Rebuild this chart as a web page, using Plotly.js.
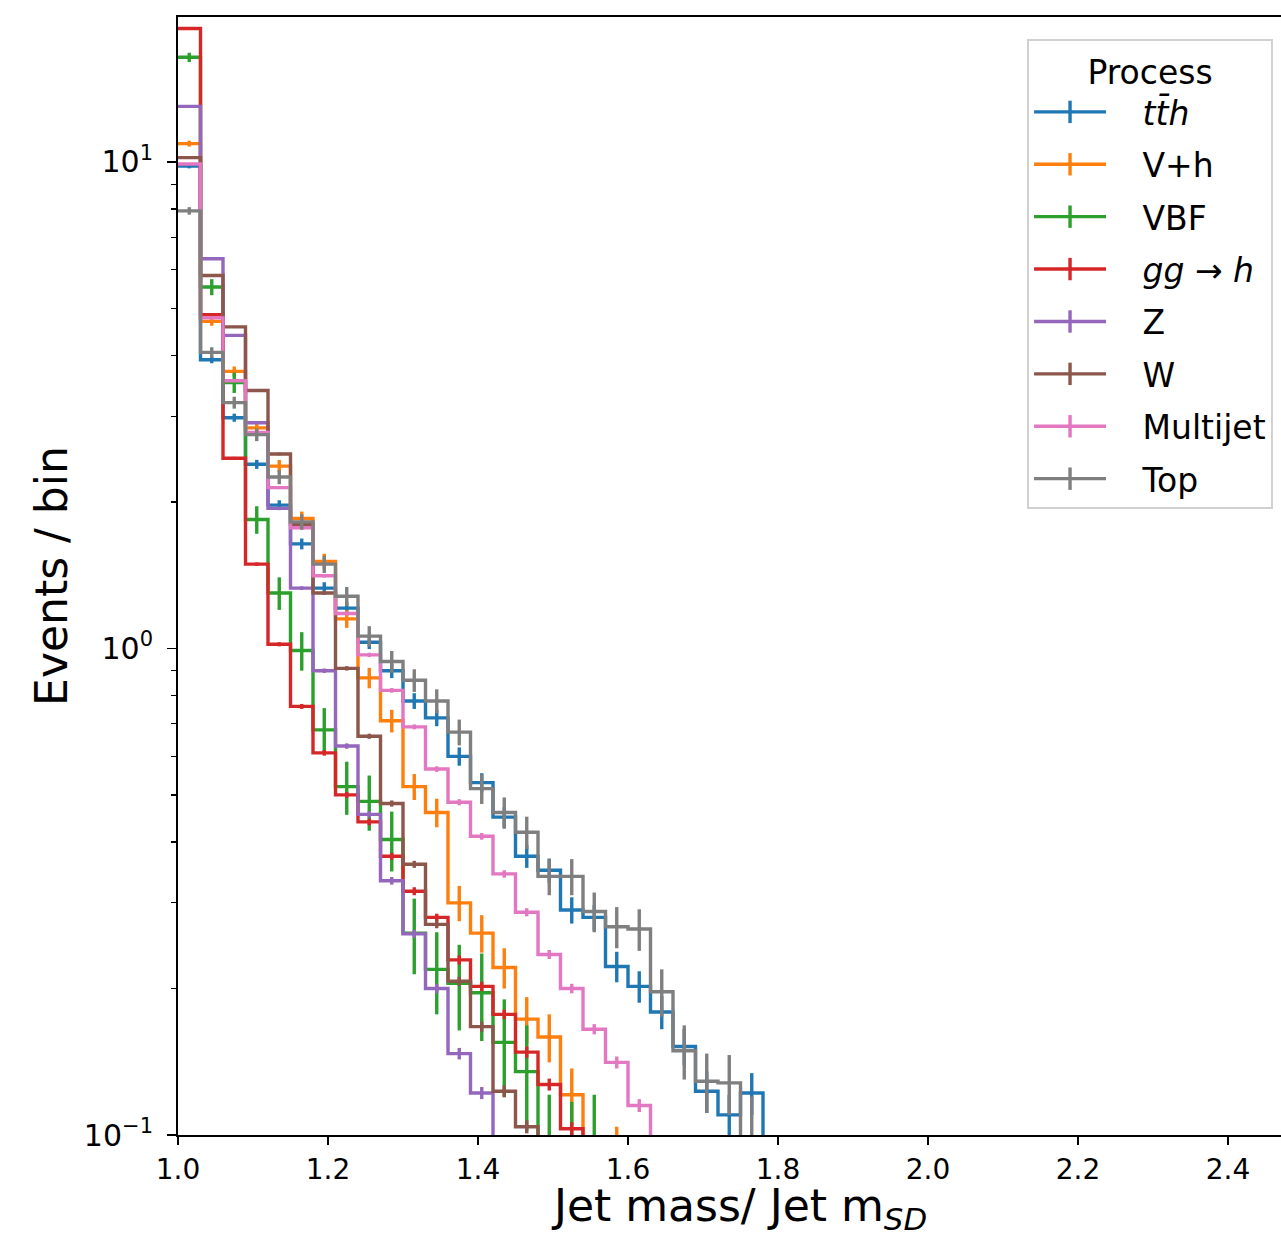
<!DOCTYPE html>
<html>
<head>
<meta charset="utf-8">
<script src="https://cdn.plot.ly/plotly-3.0.1.min.js"></script>
<style>
  html, body { margin: 0; padding: 0; overflow: hidden; background: #fff; }
  #chart { width: 1330px; height: 1237px; }
</style>
</head>
<body>
<div id="chart"></div>
<script>
// Bin edges (Jet mass / Jet m_SD)
const edges = [1.00,1.03,1.06,1.09,1.12,1.15,1.18,1.21,1.24,1.27,1.30,1.33,1.36,1.39,1.42,1.45,1.48,1.51,1.54,1.57,1.60,1.63,1.66,1.69,1.72,1.75,1.78];

// Events / bin per process and their uncertainties
const tthVals = [9.8,3.92,2.98,2.39,1.97,1.64,1.33,1.21,1.03,0.90,0.78,0.72,0.60,0.53,0.45,0.374,0.35,0.29,0.28,0.222,0.202,0.179,0.152,0.123,0.110,0.122];
const tthErr  = [0.103,0.065,0.057,0.051,0.046,0.042,0.038,0.036,0.033,0.031,0.029,0.028,0.026,0.024,0.022,0.020,0.020,0.018,0.017,0.016,0.015,0.014,0.013,0.012,0.011,0.012];

const vhVals = [10.9,4.7,3.71,2.84,2.37,1.85,1.51,1.15,0.87,0.71,0.52,0.46,0.30,0.26,0.221,0.173,0.159,0.121,0.06,0.07];
const vhErr  = [0.15,0.098,0.087,0.076,0.069,0.061,0.055,0.048,0.042,0.038,0.032,0.031,0.025,0.023,0.021,0.019,0.018,0.016,0.01,0.034];

const vbfVals = [16.4,5.53,3.52,1.84,1.30,0.99,0.68,0.52,0.485,0.405,0.26,0.219,0.205,0.196,0.155,0.135,0.085,0.09,0.085];
const vbfErr  = [0.36,0.21,0.17,0.12,0.10,0.09,0.074,0.065,0.063,0.057,0.046,0.042,0.041,0.040,0.035,0.033,0.036,0.027,0.036];

const gghVals = [18.8,4.85,2.46,1.49,1.02,0.76,0.61,0.50,0.44,0.374,0.317,0.28,0.229,0.202,0.177,0.148,0.127,0.103];
const gghErr  = [0.043,0.022,0.016,0.012,0.010,0.009,0.008,0.007,0.007,0.006,0.006,0.005,0.005,0.0045,0.004,0.004,0.0036,0.0032];

const zVals = [13.0,6.32,4.40,2.91,1.94,1.33,0.90,0.63,0.456,0.333,0.259,0.20,0.147,0.122];
const zErr  = [0.036,0.025,0.021,0.017,0.014,0.012,0.0095,0.008,0.007,0.006,0.005,0.0045,0.004,0.0035];

const wVals = [10.2,5.84,4.58,3.39,2.51,1.80,1.30,0.91,0.66,0.48,0.36,0.271,0.207,0.167,0.123,0.104];
const wErr  = [0.032,0.024,0.021,0.018,0.016,0.013,0.011,0.0095,0.008,0.007,0.006,0.005,0.0045,0.004,0.0035,0.0032];

const mjVals = [9.9,4.78,3.55,2.78,2.14,1.77,1.41,1.18,0.97,0.82,0.69,0.565,0.483,0.411,0.344,0.287,0.235,0.20,0.165,0.141,0.115];
const mjErr  = [0.031,0.022,0.019,0.017,0.015,0.013,0.012,0.011,0.010,0.009,0.008,0.0075,0.007,0.0065,0.006,0.0055,0.005,0.0045,0.004,0.004,0.0035];

const topVals = [7.93,4.06,3.20,2.75,2.25,1.82,1.49,1.28,1.06,0.94,0.86,0.78,0.673,0.515,0.46,0.419,0.34,0.34,0.288,0.268,0.265,0.197,0.149,0.129,0.128,0.085];
const topErr  = [0.14,0.10,0.09,0.083,0.075,0.067,0.061,0.057,0.051,0.048,0.046,0.044,0.041,0.036,0.034,0.032,0.029,0.029,0.027,0.026,0.026,0.022,0.019,0.018,0.018,0.035];

const names  = ['<i>tt\u0304h</i>', 'V+h', 'VBF', '<i>gg</i> \u2192 <i>h</i>', 'Z', 'W', 'Multijet', 'Top'];
const colors = ['#1f77b4','#ff7f0e','#2ca02c','#d62728','#9467bd','#8c564b','#e377c2','#7f7f7f'];
const series = [[tthVals,tthErr],[vhVals,vhErr],[vbfVals,vbfErr],[gghVals,gghErr],[zVals,zErr],[wVals,wErr],[mjVals,mjErr],[topVals,topErr]];

const FONT = 'DejaVu Sans, Verdana, sans-serif';
const LW = 3.4;
const traces = [];
series.forEach(([vals, errs], i) => {
  const n = vals.length;
  const xs = edges.slice(0, n + 1);
  const ys = vals.concat([0.001]);   // step drops out of the axis after the last bin
  traces.push({
    type: 'scatter', mode: 'lines', x: xs, y: ys,
    line: {shape: 'hv', color: colors[i], width: LW},
    showlegend: false, hoverinfo: 'skip'
  });
  const centers = vals.map((_, k) => (edges[k] + edges[k + 1]) / 2);
  traces.push({
    type: 'scatter', mode: 'markers', x: centers, y: vals,
    marker: {size: 1, opacity: 0, color: colors[i]},
    error_y: {type: 'data', array: errs, visible: true, color: colors[i], thickness: LW, width: 0},
    showlegend: false, hoverinfo: 'skip'
  });
});
// legend entries (line with error-bar style cross)
names.forEach((nm, i) => {
  traces.push({
    type: 'scatter', mode: 'lines+markers', x: [null], y: [null], name: '\u00a0\u00a0\u00a0' + nm,
    legendgroup: 'g' + i,
    line: {color: colors[i], width: LW},
    marker: {symbol: 'line-ns', size: 16, color: colors[i], line: {color: colors[i], width: LW}}
  });
});

const layout = {
  width: 1330, height: 1237,
  margin: {l: 178, r: 27, t: 17, b: 102},
  paper_bgcolor: '#ffffff', plot_bgcolor: '#ffffff',
  font: {family: FONT, color: '#000'},
  xaxis: {
    range: [1.0, 2.5], tickmode: 'linear', tick0: 1.0, dtick: 0.2, tickformat: '.1f',
    ticks: 'outside', ticklen: 8, tickwidth: 1.5, tickcolor: '#000',
    showline: true, linecolor: '#000', linewidth: 2, mirror: true,
    showgrid: false, zeroline: false,
    tickfont: {family: FONT, size: 28, color: '#000'},
    title: {text: 'Jet mass/ Jet m<sub><i>SD</i></sub>', font: {family: FONT, size: 44, color: '#000'}, standoff: 16}
  },
  yaxis: {
    type: 'log', range: [-1, 1.2977],
    tickmode: 'array', tickvals: [0.1, 1, 10],
    ticktext: ['10<sup>\u22121</sup>', '10<sup>0</sup>', '10<sup>1</sup>'],
    ticks: 'outside', ticklen: 9, tickwidth: 1.5, tickcolor: '#000',
    ticklabelstandoff: 8,
    minor: {tickmode: 'array', tickvals: [0.2,0.3,0.4,0.5,0.6,0.7,0.8,0.9,2,3,4,5,6,7,8,9], ticks: 'outside', ticklen: 5, tickwidth: 1.2, tickcolor: '#000', showgrid: false},
    showline: true, linecolor: '#000', linewidth: 2, mirror: true,
    showgrid: false, zeroline: false,
    tickfont: {family: FONT, size: 30, color: '#000'},
    title: {text: 'Events / bin', font: {family: FONT, size: 44, color: '#000'}, standoff: 2}
  },
  legend: {
    x: 0.7547, y: 0.9803, xanchor: 'left', yanchor: 'top',
    bgcolor: 'rgba(255,255,255,0.8)', bordercolor: '#d0d0d0', borderwidth: 2,
    font: {family: FONT, size: 33, color: '#000'},
    title: {text: 'Process', side: 'top center', font: {family: FONT, size: 33, color: '#000'}},
    traceorder: 'grouped', tracegroupgap: 6.5, itemwidth: 72
  },
  showlegend: true
};

Plotly.newPlot('chart', traces, layout, {staticPlot: true, displayModeBar: false});
</script>
</body>
</html>
